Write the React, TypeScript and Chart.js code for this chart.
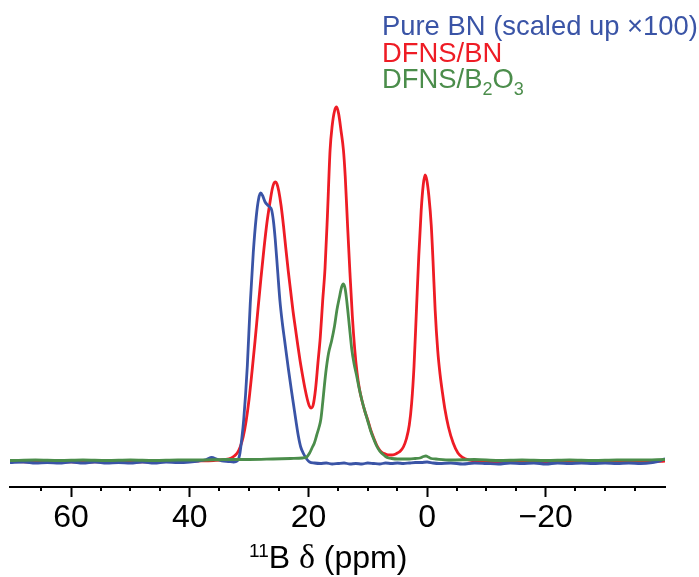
import { useEffect, useRef } from 'react';
import { Chart, registerables } from 'chart.js';

Chart.register(...registerables);

// ---- axis ----
const X_MIN = -40.1;
const X_MAX = 70.3;
const Y_MIN = -26;
const Y_MAX = 361;
const MAJOR_TICKS = [60, 40, 20, 0, -20];
const MINOR_TICKS = [65, 55, 50, 45, 35, 30, 25, 15, 10, 5, -5, -10, -15, -25, -30, -35];
// axis title segments: [text, kind] where kind = 'sup' | 'normal' | 'serif'
const X_TITLE: [string, string][] = [['11', 'sup'], ['B ', 'normal'], ['δ', 'serif'], [' (ppm)', 'normal']];

// ---- series labels (segments: [text, isSubscript]) ----
const LABEL_BN: [string, boolean][] = [['Pure BN (scaled up ×100)', false]];
const LABEL_DFNS_BN: [string, boolean][] = [['DFNS/BN', false]];
const LABEL_DFNS_B2O3: [string, boolean][] = [['DFNS/B', false], ['2', true], ['O', false], ['3', true]];

// ---- series values: [ppm, intensity] ----
const PURE_BN: [number, number][] = [
  [70.3, -1.5], [68, -1], [66, -2], [64, -1.5], [62, -2], [60, -1], [58, -2], [56, -1], [54, -2], [52, -1.5],
  [50, -2], [48, -1], [46, -2], [44, -1], [42, -1.5], [40, -1], [38.5, 0], [37.2, 1.5], [36.3, 3.5], [35.5, 2],
  [34.6, 0], [33.5, -0.5], [32.6, -1], [32.0, 0], [31.6, 6], [31.2, 24], [30.9, 42], [30.6, 66], [30.3, 95],
  [29.8, 158], [29.3, 208], [28.8, 244], [28.4, 262], [28.05, 268], [27.7, 265], [27.3, 259], [26.9, 256],
  [26.5, 254], [26.2, 251], [25.9, 240], [25.6, 222], [25.2, 191], [24.8, 160], [24.4, 138], [24.0, 120],
  [23.4, 93], [22.9, 72], [22.5, 56], [22.1, 40], [21.7, 25], [21.3, 14], [20.8, 7], [20.3, 2], [19.8, -1],
  [19.0, -2], [18, -2.5], [17, -2], [16, -3], [15, -2.5], [14, -2], [13, -3], [12, -2.5], [11, -3], [10, -2],
  [9, -2.5], [8, -3], [7, -2], [6, -2.5], [5, -2], [4, -2.5], [3, -2], [2, -1.5], [1, -1.5], [0, -1],
  [-1, -2], [-2, -2.5], [-4, -2], [-6, -3], [-8, -2], [-10, -2.5], [-12, -3], [-14, -2], [-16, -2.5],
  [-18, -2], [-20, -3], [-22, -2], [-24, -2.5], [-26, -2], [-28, -2.5], [-30, -2], [-32, -2.5], [-34, -2],
  [-36, -2.5], [-38, -1.5], [-39.3, 0], [-40.1, 2.5],
];

const DFNS_BN: [number, number][] = [
  [70.3, -0.5], [66, -1], [62, -0.5], [58, -1], [54, -0.5], [50, -1], [46, -0.5], [42, -0.5], [39, 0],
  [36, 0.5], [34, 1.5], [33, 3], [32.5, 5], [32, 8], [31.5, 14], [31, 24], [30.5, 40], [30.0, 62], [29.5, 90],
  [29.0, 120], [28.5, 152], [28.0, 183], [27.5, 212], [27.0, 238], [26.5, 258], [26.1, 272], [25.8, 278],
  [25.55, 279], [25.3, 277], [25.0, 270], [24.6, 255], [24.2, 235], [23.8, 212], [23.4, 190], [23.0, 170],
  [22.6, 150], [22.2, 133], [21.8, 116], [21.4, 100], [21.0, 86], [20.6, 73], [20.2, 62], [19.85, 55],
  [19.55, 53], [19.2, 56], [18.8, 72], [18.4, 98], [18.0, 124], [17.6, 160], [17.2, 193], [16.8, 245],
  [16.35, 311], [16.0, 335], [15.6, 350], [15.25, 354], [14.9, 347], [14.5, 330], [14.1, 311], [13.8, 285],
  [13.4, 235], [13.0, 188], [12.6, 145], [12.2, 112], [11.8, 88], [11.4, 72], [11.0, 61], [10.5, 50],
  [10.0, 41], [9.5, 31], [9.0, 23], [8.5, 16], [8.0, 11], [7.5, 8], [7.0, 7], [6.5, 6], [6.0, 6], [5.5, 6.5],
  [5.0, 8], [4.5, 10], [4.0, 14], [3.5, 22], [3.0, 36], [2.6, 58], [2.2, 95], [1.8, 150], [1.4, 205],
  [1.0, 250], [0.65, 276], [0.35, 286], [0.05, 281], [-0.3, 265], [-0.7, 236], [-1.0, 200], [-1.35, 152],
  [-1.8, 110], [-2.2, 86], [-2.6, 68], [-3.0, 52], [-3.6, 34], [-4.4, 18], [-5.2, 8], [-6.0, 3.5],
  [-7, 1], [-8, 0], [-10, -0.5], [-14, -1], [-18, -0.5], [-22, -1], [-26, -0.5], [-30, -1], [-34, -0.5],
  [-37, -1], [-40.1, 0],
];

const DFNS_B2O3: [number, number][] = [
  [70.3, 0.5], [66, 1], [62, 0.5], [58, 1], [54, 0.5], [50, 1], [46, 0.5], [42, 1], [38, 1], [34, 1.5],
  [30, 1.5], [26, 2], [23, 2.5], [21, 3], [20.3, 4], [19.8, 8], [19.4, 13], [19.0, 18], [18.6, 26],
  [18.2, 34], [17.9, 42], [17.6, 58], [17.3, 76], [17.0, 92], [16.6, 108], [16.1, 120], [15.6, 135],
  [15.2, 151], [14.8, 163], [14.4, 174], [14.1, 177], [13.8, 172], [13.5, 158], [13.1, 135], [12.7, 112],
  [12.3, 97], [11.9, 86], [11.5, 74], [11.0, 61], [10.5, 50], [10.0, 40], [9.5, 30], [9.0, 22], [8.5, 15],
  [8.0, 10], [7.5, 7], [7.0, 4.5], [6.5, 3], [6, 2.5], [5, 2], [4, 2], [3, 2], [2, 2.5], [1.2, 3], [0.6, 4.5],
  [0.2, 5], [-0.2, 4], [-0.7, 2.5], [-1.5, 2], [-4, 1], [-8, 1.5], [-12, 0.5], [-16, 1], [-20, 0.5],
  [-24, 1], [-28, 0.5], [-32, 1], [-36, 1], [-40.1, 1.5],
];

// ---- styles ----
const COLOR_BN = '#3a54a6';
const COLOR_DFNS_BN = '#ee1c25';
const COLOR_DFNS_B2O3 = '#4b8d4b';
const FONT = '"Liberation Sans", Arial, sans-serif';
const SERIF = '"Liberation Serif", "DejaVu Serif", serif';

const LEGEND_ITEMS = [
  { segs: LABEL_BN, color: COLOR_BN },
  { segs: LABEL_DFNS_BN, color: COLOR_DFNS_BN },
  { segs: LABEL_DFNS_B2O3, color: COLOR_DFNS_B2O3 },
];
const LEGEND_X = 382;
const LEGEND_BASELINES = [35, 61.5, 88];
const TITLE_X = 249;
const TITLE_BASELINE = 568;

const overlayPlugin = {
  id: 'overlay',
  afterDraw(chart: any) {
    const ctx: CanvasRenderingContext2D = chart.ctx;
    const xs = chart.scales.x;
    const bottom = chart.chartArea.bottom;
    ctx.save();
    ctx.strokeStyle = '#000';
    ctx.lineWidth = 2;
    for (const v of MINOR_TICKS) {
      const px = Math.round(xs.getPixelForValue(v));
      ctx.beginPath();
      ctx.moveTo(px, bottom);
      ctx.lineTo(px, bottom + 4);
      ctx.stroke();
    }
    ctx.textAlign = 'left';
    ctx.textBaseline = 'alphabetic';
    // axis title
    let tx = TITLE_X;
    ctx.fillStyle = '#000';
    for (const [t, kind] of X_TITLE) {
      ctx.font = kind === 'sup' ? `19px ${FONT}` : kind === 'serif' ? `34px ${SERIF}` : `32px ${FONT}`;
      ctx.fillText(t, tx, kind === 'sup' ? TITLE_BASELINE - 11 : TITLE_BASELINE);
      tx += ctx.measureText(t).width;
    }
    // legend
    LEGEND_ITEMS.forEach((item, i) => {
      let x = LEGEND_X;
      const y = LEGEND_BASELINES[i];
      ctx.fillStyle = item.color;
      for (const [t, sub] of item.segs) {
        ctx.font = sub ? `18px ${FONT}` : `27.4px ${FONT}`;
        ctx.fillText(t, x, sub ? y + 7 : y);
        x += ctx.measureText(t).width;
      }
    });
    ctx.restore();
  },
};

const toPoints = (arr: [number, number][]) => arr.map(([x, y]) => ({ x, y }));

export default function App() {
  const canvasRef = useRef<HTMLCanvasElement | null>(null);

  useEffect(() => {
    if (!canvasRef.current) return;
    const lineDefaults = {
      pointRadius: 0,
      borderWidth: 2.8,
      fill: false,
      cubicInterpolationMode: 'monotone' as const,
    };
    const chart = new Chart(canvasRef.current, {
      type: 'line',
      data: {
        datasets: [
          { label: 'DFNS/B2O3', data: toPoints(DFNS_B2O3), borderColor: COLOR_DFNS_B2O3, ...lineDefaults },
          { label: 'Pure BN (scaled up ×100)', data: toPoints(PURE_BN), borderColor: COLOR_BN, ...lineDefaults },
          { label: 'DFNS/BN', data: toPoints(DFNS_BN), borderColor: COLOR_DFNS_BN, ...lineDefaults },
        ],
      },
      options: {
        animation: false,
        responsive: true,
        maintainAspectRatio: false,
        parsing: false as any,
        layout: { padding: { left: 10, right: 34, top: 100, bottom: 0 } },
        plugins: { legend: { display: false }, tooltip: { enabled: false } },
        scales: {
          x: {
            type: 'linear',
            min: X_MIN,
            max: X_MAX,
            reverse: true,
            afterBuildTicks: (s: any) => {
              s.ticks = [...MAJOR_TICKS].sort((a, b) => a - b).map((v) => ({ value: v }));
            },
            afterFit: (s: any) => {
              s.height = 90;
            },
            ticks: {
              autoSkip: false,
              maxRotation: 0,
              padding: 2,
              color: '#000',
              font: { family: FONT, size: 32 },
              callback: (v: any) => (Number(v) < 0 ? '\u2212' + Math.abs(Number(v)) : String(v)),
            },
            grid: {
              display: true,
              drawOnChartArea: false,
              drawTicks: true,
              tickLength: 10,
              tickColor: '#000',
              tickWidth: 2,
            },
            border: { display: true, color: '#000', width: 2 },
            title: { display: false },
          },
          y: { type: 'linear', display: false, min: Y_MIN, max: Y_MAX },
        },
      },
      plugins: [overlayPlugin],
    });
    return () => chart.destroy();
  }, []);

  return (
    <div style={{ position: 'fixed', left: 0, top: 0, width: 699, height: 577, background: '#fff' }}>
      <canvas ref={canvasRef} />
    </div>
  );
}
